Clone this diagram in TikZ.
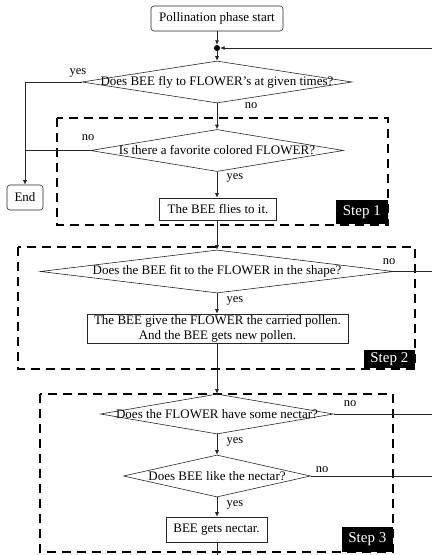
\documentclass[tikz,border=0pt]{standalone}
\usepackage{fontspec}
\setmainfont{Liberation Serif}
\usetikzlibrary{shapes.geometric,arrows.meta}
\begin{document}
\begin{tikzpicture}[x=1pt,y=-1pt,
  every node/.style={font=\fontsize{13}{15}\selectfont, inner sep=0pt},
  line/.style={line width=0.6pt, draw=black!85},
  arr/.style={line, -{Latex[length=4.5pt,width=4pt]}},
  dec/.style={diamond, draw=black!85, line width=0.6pt, inner sep=0pt},
  proc/.style={rectangle, draw=black!85, line width=0.6pt, fill=white},
  term/.style={rectangle, rounded corners=3pt, draw=black!85, line width=0.6pt, fill=white},
  stepframe/.style={draw=black, line width=2.6pt, dash pattern=on 9pt off 6pt},
  steplabel/.style={fill=black, text=white, font=\fontsize{15}{17}\selectfont, anchor=south east, inner xsep=3pt},
  lbl/.style={font=\fontsize{12.5}{14}\selectfont}
]
\useasboundingbox (0,0) rectangle (432,555);

% dashed frames
\draw[stepframe] (57,118) rectangle (388,225);
\draw[stepframe] (18,247) rectangle (415,369);
\draw[stepframe] (40,394) rectangle (393,552);

% nodes
\node[term, minimum width=132pt, minimum height=25pt] (start) at (217,18.5) {Pollination phase start};
\node[circle, fill=black, minimum size=6pt] (dot) at (217,48) {};
\node[dec, minimum width=270pt, minimum height=42pt, label={center:Does BEE fly to FLOWER's at given times?}] (d1) at (217,82) {};
\node[term, minimum width=36pt, minimum height=25pt] (end) at (25,197.5) {End};
\node[dec, minimum width=253pt, minimum height=42pt, label={center:Is there a favorite colored FLOWER?}] (d2) at (217,150.5) {};
\node[proc, minimum width=117pt, minimum height=22pt] (b1) at (218,209) {The BEE flies to it.};
\node[dec, minimum width=353pt, minimum height=43pt, label={center:Does the BEE fit to the FLOWER in the shape?}] (d3) at (217,271.5) {};
\node[proc, minimum width=261pt, minimum height=29pt, align=center] (b2) at (217.5,328.5) {The BEE give the FLOWER the carried pollen.\\And the BEE gets new pollen.};
\node[dec, minimum width=233pt, minimum height=40pt, label={center:Does the FLOWER have some nectar?}] (d4) at (217,414) {};
\node[dec, minimum width=187pt, minimum height=42pt, label={center:Does BEE like the nectar?}] (d5) at (217,476) {};
\node[proc, minimum width=101pt, minimum height=25pt] (b3) at (216.5,529.5) {BEE gets nectar.};

% step labels
\node[steplabel, minimum width=52pt, minimum height=24pt] (s1) at (388,224) {Step 1};
\node[steplabel, minimum width=51pt, minimum height=18pt] (s2) at (415,368) {Step 2};
\node[steplabel, minimum width=51pt, minimum height=25pt] (s3) at (393,552) {Step 3};

% coordinates
\coordinate (rtop) at (432,48);
\coordinate (ycorner) at (25,82);
\coordinate (njoin) at (25,150.5);
\coordinate (r3) at (432,271.5);
\coordinate (r4) at (432,414);
\coordinate (r5) at (432,476);
\coordinate (bottom) at (217,555);

% connectors
\draw[arr] (start.south) -- (dot.north);
\draw[arr] (rtop) -- (dot.east);
\draw[arr] (dot.south) -- (d1.north);
\draw[arr] (d1.west) -- (ycorner) -- (end.north);
\draw[arr] (d1.south) -- (d2.north);
\draw[line] (d2.west) -- (njoin);
\draw[arr] (d2.south) -- (b1.north -| d2.south);
\draw[arr] (b1.south -| d3.north) -- (d3.north);
\draw[line] (d3.east) -- (r3);
\draw[arr] (d3.south) -- (b2.north -| d3.south);
\draw[arr] (b2.south -| d4.north) -- (d4.north);
\draw[line] (d4.east) -- (r4);
\draw[arr] (d4.south) -- (d5.north);
\draw[line] (d5.east) -- (r5);
\draw[arr] (d5.south) -- (b3.north -| d5.south);
\draw[line] (b3.south -| bottom) -- (bottom);

% yes/no labels
\node[lbl] (l1) at (78,73) {yes};
\node[lbl] (l2) at (251,106) {no};
\node[lbl] (l3) at (88,138) {no};
\node[lbl] (l4) at (235,178) {yes};
\node[lbl] (l5) at (389,262) {no};
\node[lbl] (l6) at (235,301) {yes};
\node[lbl] (l7) at (350,404) {no};
\node[lbl] (l8) at (235,442) {yes};
\node[lbl] (l9) at (322,470) {no};
\node[lbl] (l10) at (235,505) {yes};
\end{tikzpicture}
\end{document}
